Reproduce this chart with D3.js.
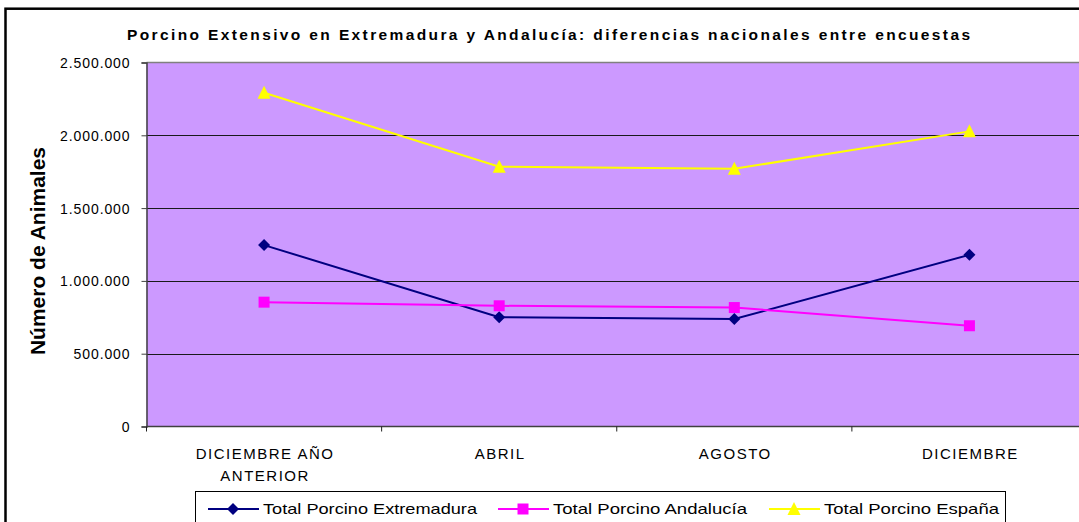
<!DOCTYPE html>
<html>
<head>
<meta charset="utf-8">
<script src="https://cdn.jsdelivr.net/npm/d3@7/dist/d3.min.js"></script>
<style>
  html, body { margin: 0; padding: 0; background: #fff; }
  svg { display: block; font-family: "Liberation Sans", Arial, sans-serif; }
</style>
</head>
<body>
<svg id="chart" width="1079" height="522"></svg>
<script>
// Survey periods (x categories)
const categories = [["DICIEMBRE AÑO", "ANTERIOR"], ["ABRIL"], ["AGOSTO"], ["DICIEMBRE"]];
// Extensive pig census per survey
const extremadura = [1246000, 751000, 738000, 1179000];
const andalucia = [854000, 829000, 817000, 692000];
const espana = [2292000, 1784000, 1770000, 2027000];
const yTicks = [0, 500000, 1000000, 1500000, 2000000, 2500000];
const seriesNames = ["Total Porcino Extremadura", "Total Porcino Andalucía", "Total Porcino España"];

const svg = d3.select("#chart");
const plot = { left: 146.5, right: 1087, top: 62.5, bottom: 426.5 };

const x = d3.scaleBand().domain(d3.range(categories.length)).range([plot.left, plot.right]);
const y = d3.scaleLinear().domain([0, 2500000]).range([plot.bottom, plot.top]);

const fmt = v => d3.format(",")(v).replace(/,/g, ".");

// outer frame
svg.append("rect").attr("x", 5.5).attr("y", 8.7).attr("width", 1200).attr("height", 700)
  .attr("fill", "#fff").attr("stroke", "#000").attr("stroke-width", 2.5);

// title
svg.append("text").attr("x", 127).attr("y", 40)
  .attr("textLength", 843).attr("lengthAdjust", "spacing")
  .attr("font-size", 15.5).attr("font-weight", "bold").attr("fill", "#000")
  .text("Porcino Extensivo en Extremadura y Andalucía: diferencias nacionales entre encuestas");

// plot background
svg.append("rect").attr("x", plot.left).attr("y", plot.top)
  .attr("width", plot.right - plot.left).attr("height", plot.bottom - plot.top)
  .attr("fill", "#CC99FF");

// gridlines
svg.append("g").selectAll("line").data(yTicks.filter(t => t > 0 && t < 2500000)).join("line")
  .attr("x1", plot.left).attr("x2", plot.right)
  .attr("y1", d => Math.round(y(d)) + 0.5).attr("y2", d => Math.round(y(d)) + 0.5)
  .attr("stroke", "#1a1a1a").attr("stroke-width", 1);

// top border of the plot
svg.append("line").attr("x1", plot.left).attr("x2", plot.right)
  .attr("y1", plot.top).attr("y2", plot.top).attr("stroke", "#808080").attr("stroke-width", 1.5);

// y axis
const yAxis = d3.axisLeft(y).tickValues(yTicks).tickFormat(fmt).tickSize(5).tickPadding(11);
const gy = svg.append("g").attr("transform", `translate(${plot.left},0)`).call(yAxis);
gy.select(".domain").attr("stroke", "#404040").attr("stroke-width", 1.5);
gy.selectAll(".tick line").attr("stroke", "#404040");
gy.selectAll(".tick text").attr("font-size", 14).attr("fill", "#000")
  .attr("font-family", "Liberation Sans, Arial, sans-serif")
  .attr("letter-spacing", 0.9).attr("dy", "0.35em");

// x axis baseline and category dividers
const xBoundaries = d3.range(categories.length + 1).map(i => plot.left + i * x.step());
svg.append("line").attr("x1", plot.left).attr("x2", plot.right)
  .attr("y1", plot.bottom).attr("y2", plot.bottom).attr("stroke", "#404040").attr("stroke-width", 1.5);
svg.append("g").selectAll("line").data(xBoundaries).join("line")
  .attr("x1", d => d).attr("x2", d => d)
  .attr("y1", plot.bottom).attr("y2", plot.bottom + 5)
  .attr("stroke", "#202020").attr("stroke-width", 1);

// x labels
const xl = svg.append("g").selectAll("text").data(categories).join("text")
  .attr("text-anchor", "middle").attr("font-size", 15).attr("fill", "#000")
  .attr("letter-spacing", 1.5);
xl.each(function (d, i) {
  const t = d3.select(this);
  d.forEach((line, j) => {
    t.append("tspan").attr("x", x(i) + x.bandwidth() / 2 + 1).attr("y", 459 + j * 22).text(line);
  });
});

// y axis title
svg.append("text").attr("transform", "translate(45,251) rotate(-90)")
  .attr("text-anchor", "middle").attr("font-size", 21).attr("font-weight", "bold")
  .attr("fill", "#000").text("Número de Animales");

// series
const series = [
  { name: seriesNames[0], values: extremadura, color: "#000080", shape: "diamond" },
  { name: seriesNames[1], values: andalucia, color: "#FF00FF", shape: "square" },
  { name: seriesNames[2], values: espana, color: "#FFFF00", shape: "triangle" }
];

const symbolPath = (shape) => {
  if (shape === "diamond") return "M0,-6L6,0L0,6L-6,0Z";
  if (shape === "square") return "M-5.5,-5.5H5.5V5.5H-5.5Z";
  return "M0,-7L6.5,6H-6.5Z";
};

const line = d3.line().x((d, i) => x(i) + x.bandwidth() / 2).y(d => y(d));

series.forEach(s => {
  svg.append("path").datum(s.values).attr("d", line)
    .attr("fill", "none").attr("stroke", s.color).attr("stroke-width", 2);
  svg.append("g").selectAll("path").data(s.values).join("path")
    .attr("transform", (d, i) => `translate(${x(i) + x.bandwidth() / 2},${y(d)})`)
    .attr("d", symbolPath(s.shape)).attr("fill", s.color);
});

// legend
const legend = svg.append("g");
legend.append("rect").attr("x", 195.5).attr("y", 491.5).attr("width", 810).attr("height", 60)
  .attr("fill", "#fff").attr("stroke", "#000").attr("stroke-width", 1);
const legendX = [208, 498, 769];
const legendTextW = [214, 194, 175];
series.forEach((s, i) => {
  const g = legend.append("g").attr("transform", `translate(${legendX[i]},509)`);
  g.append("line").attr("x1", 0).attr("x2", 51).attr("y1", 0).attr("y2", 0)
    .attr("stroke", s.color).attr("stroke-width", 2);
  g.append("path").attr("transform", "translate(25,0)").attr("d", symbolPath(s.shape)).attr("fill", s.color);
  g.append("text").attr("x", 55).attr("y", 5).attr("font-size", 15).attr("fill", "#000")
    .attr("textLength", legendTextW[i]).attr("lengthAdjust", "spacingAndGlyphs")
    .text(s.name);
});
</script>
</body>
</html>
